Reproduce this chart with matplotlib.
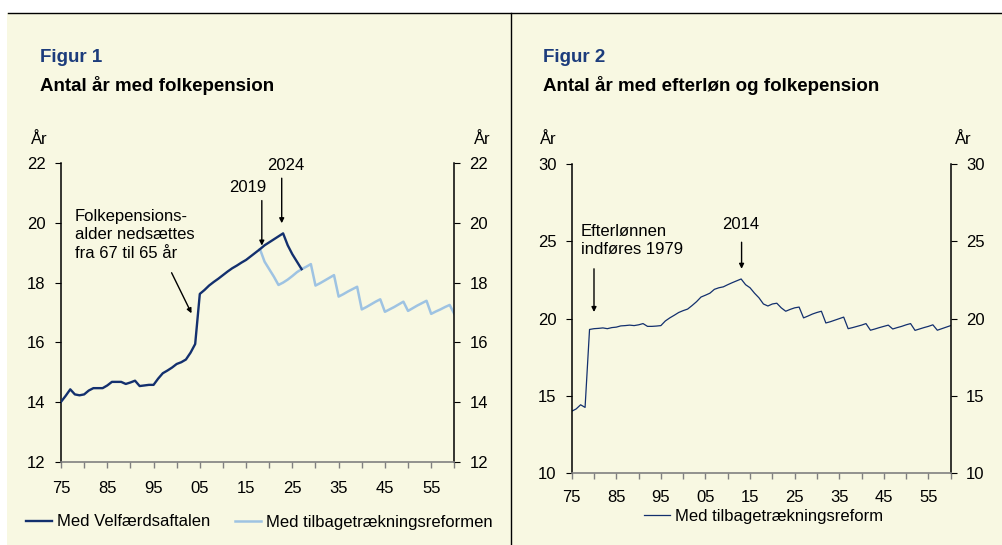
import matplotlib.pyplot as plt
from matplotlib.lines import Line2D
from matplotlib.patches import Rectangle

plt.rcParams['font.family'] = ['Liberation Sans', 'DejaVu Sans']

# data (years 1975-2060)
years = list(range(1975, 2061))

velfaerd_years = list(range(1975, 2028))
velfaerd = [14.0, 14.2, 14.42, 14.25, 14.22, 14.25, 14.38, 14.46, 14.46, 14.46,
            14.55, 14.67, 14.67, 14.67, 14.6, 14.65, 14.71, 14.53, 14.55, 14.57,
            14.57, 14.78, 14.96, 15.05, 15.15, 15.27, 15.33, 15.42, 15.65, 15.94,
            17.62, 17.75, 17.9, 18.02, 18.13, 18.25, 18.37, 18.48, 18.57, 18.67,
            18.76, 18.88, 19.0, 19.12, 19.25, 19.35, 19.45, 19.55, 19.65,
            19.25, 18.95, 18.7, 18.45]

reform_years = list(range(2018, 2061))
reform = [19.12, 18.7, 18.45, 18.2, 17.92, 18.0, 18.1, 18.22, 18.35, 18.45,
          18.53, 18.62, 17.9, 17.98, 18.07, 18.16, 18.25, 17.53, 17.61, 17.7,
          17.78, 17.86, 17.1, 17.18, 17.27, 17.36, 17.44, 17.02, 17.1, 17.18,
          17.27, 17.36, 17.05, 17.14, 17.23, 17.31, 17.39, 16.95, 17.03, 17.1,
          17.18, 17.25, 16.95]

efterloen = [14.0, 14.15, 14.42, 14.25, 19.3, 19.35, 19.37, 19.4, 19.35, 19.42,
             19.45, 19.53, 19.55, 19.58, 19.55, 19.6, 19.68, 19.5, 19.5, 19.52,
             19.55, 19.85, 20.05, 20.22, 20.4, 20.52, 20.62, 20.85, 21.1, 21.4,
             21.52, 21.65, 21.9, 22.0, 22.06, 22.2, 22.33, 22.45, 22.57, 22.2,
             22.0, 21.65, 21.35, 20.95, 20.82, 20.95, 21.0, 20.7, 20.48, 20.6,
             20.7, 20.75, 20.05, 20.17, 20.3, 20.4, 20.48, 19.72, 19.8, 19.9,
             20.0, 20.1, 19.35, 19.42, 19.5, 19.58, 19.68, 19.25, 19.33, 19.42,
             19.5, 19.58, 19.33, 19.42, 19.5, 19.6, 19.68, 19.24, 19.33, 19.42,
             19.5, 19.6, 19.25, 19.35, 19.45, 19.55]

xtick_labels = ['75', '85', '95', '05', '15', '25', '35', '45', '55']
y1_ticks = [12, 14, 16, 18, 20, 22]
y2_ticks = [10, 15, 20, 25, 30]

W, H = 1002, 545
BG = '#f8f8e2'
NAVY = '#13306e'
LIGHT = '#9ec3e2'
TITLE_BLUE = '#1c3c7c'


def px(x, y):
    return x / W, 1 - y / H


def pax(x0, y0, x1, y1):
    return [x0 / W, 1 - y1 / H, (x1 - x0) / W, (y1 - y0) / H]


fig = plt.figure(figsize=(W / 100, H / 100), dpi=100)
fig.patch.set_facecolor('white')
fig.patches.append(Rectangle(px(7, 545), (W - 7) / W, (545 - 13) / H,
                             transform=fig.transFigure, facecolor=BG,
                             edgecolor='none', zorder=-5))
fig.lines.append(Line2D([8 / W, 1], [1 - 13 / H] * 2, transform=fig.transFigure,
                        color='black', lw=1))
fig.lines.append(Line2D([511 / W] * 2, [0, 1 - 13 / H], transform=fig.transFigure,
                        color='black', lw=1))


def style_axis(ax, yticks, xpad):
    ax.set_facecolor('none')
    ax.set_xlim(1975, 2060)
    ax.set_ylim(yticks[0], yticks[-1])
    ax.set_yticks(yticks)
    ticks = list(range(1975, 2061, 5))
    ax.set_xticks(ticks)
    labels = []
    for i in range(len(ticks)):
        labels.append(xtick_labels[i // 2] if i % 2 == 0 else '')
    ax.set_xticklabels(labels)
    ax.spines['top'].set_visible(False)
    ax.spines['left'].set_linewidth(1.1)
    ax.spines['right'].set_linewidth(1.1)
    ax.spines['bottom'].set_color('#808080')
    ax.spines['bottom'].set_linewidth(1.2)
    ax.tick_params(axis='y', left=True, right=True, labelleft=True, labelright=True,
                   direction='out', length=4, width=0.8, pad=7, labelsize=12)
    ax.tick_params(axis='x', direction='out', length=4, width=1, color='#808080',
                   pad=xpad, labelsize=12)


# ---- Figur 1 ----
ax1 = fig.add_axes(pax(61, 163.3, 454.3, 461.5))
style_axis(ax1, y1_ticks, 10)
ax1.plot(velfaerd_years, velfaerd, color=NAVY, lw=1.7, label='Med Velfærdsaftalen', zorder=3)
ax1.plot(reform_years, reform, color=LIGHT, lw=1.8, label='Med tilbagetrækningsreformen', zorder=2)

ax1.text(1978.0, 19.6, 'Folkepensions-\nalder nedsættes\nfra 67 til 65 år',
         fontsize=12, ha='left', va='center', linespacing=1.3)
ax1.annotate('', xy=(2003.2, 16.97), xytext=(1998.9, 18.33),
             arrowprops=dict(arrowstyle='-|>', color='black', lw=1,
                             mutation_scale=7, shrinkA=0, shrinkB=0))
ax1.text(2015.4, 21.2, '2019', fontsize=12, ha='center', va='center')
ax1.annotate('', xy=(2018.4, 19.24), xytext=(2018.4, 20.75),
             arrowprops=dict(arrowstyle='-|>', color='black', lw=1,
                             mutation_scale=7, shrinkA=0, shrinkB=0))
ax1.text(2023.5, 21.94, '2024', fontsize=12, ha='center', va='center')
ax1.annotate('', xy=(2022.7, 19.99), xytext=(2022.7, 21.5),
             arrowprops=dict(arrowstyle='-|>', color='black', lw=1,
                             mutation_scale=7, shrinkA=0, shrinkB=0))

leg1 = ax1.legend(loc='center left', bbox_to_anchor=px(26, 522),
                  bbox_transform=fig.transFigure, ncol=2, frameon=False,
                  fontsize=12, handlelength=1.55, handletextpad=0.3,
                  columnspacing=1.5, borderpad=0, borderaxespad=0)

fig.text(*px(40, 62), 'Figur 1', fontsize=13.5, fontweight='bold', color=TITLE_BLUE)
fig.text(*px(40, 91), 'Antal år med folkepension', fontsize=13.5, fontweight='bold')
fig.text(*px(39, 140), 'År', fontsize=12, ha='center', va='center')
fig.text(*px(482, 140), 'År', fontsize=12, ha='center', va='center')

# ---- Figur 2 ----
ax2 = fig.add_axes(pax(571.7, 164.3, 950.7, 473))
style_axis(ax2, y2_ticks, 8.5)
ax2.plot(years, efterloen, color=NAVY, lw=0.9, label='Med tilbagetrækningsreform')

ax2.text(1977.0, 25.06, 'Efterlønnen\nindføres 1979', fontsize=12,
         ha='left', va='center', linespacing=1.3)
ax2.annotate('', xy=(1980.0, 20.43), xytext=(1980.0, 23.23),
             arrowprops=dict(arrowstyle='-|>', color='black', lw=1,
                             mutation_scale=7, shrinkA=0, shrinkB=0))
ax2.text(2012.9, 26.1, '2014', fontsize=12, ha='center', va='center')
ax2.annotate('', xy=(2013.1, 23.23), xytext=(2013.1, 24.95),
             arrowprops=dict(arrowstyle='-|>', color='black', lw=1,
                             mutation_scale=7, shrinkA=0, shrinkB=0))

leg2 = ax2.legend(loc='center left', bbox_to_anchor=px(644, 516),
                  bbox_transform=fig.transFigure, frameon=False,
                  fontsize=12, handlelength=1.55, handletextpad=0.3,
                  borderpad=0, borderaxespad=0)

fig.text(*px(543, 62), 'Figur 2', fontsize=13.5, fontweight='bold', color=TITLE_BLUE)
fig.text(*px(543, 91), 'Antal år med efterløn og folkepension', fontsize=13.5, fontweight='bold')
fig.text(*px(548, 140), 'År', fontsize=12, ha='center', va='center')
fig.text(*px(963, 140), 'År', fontsize=12, ha='center', va='center')

plt.savefig('out.png', dpi=100, facecolor=fig.get_facecolor())
